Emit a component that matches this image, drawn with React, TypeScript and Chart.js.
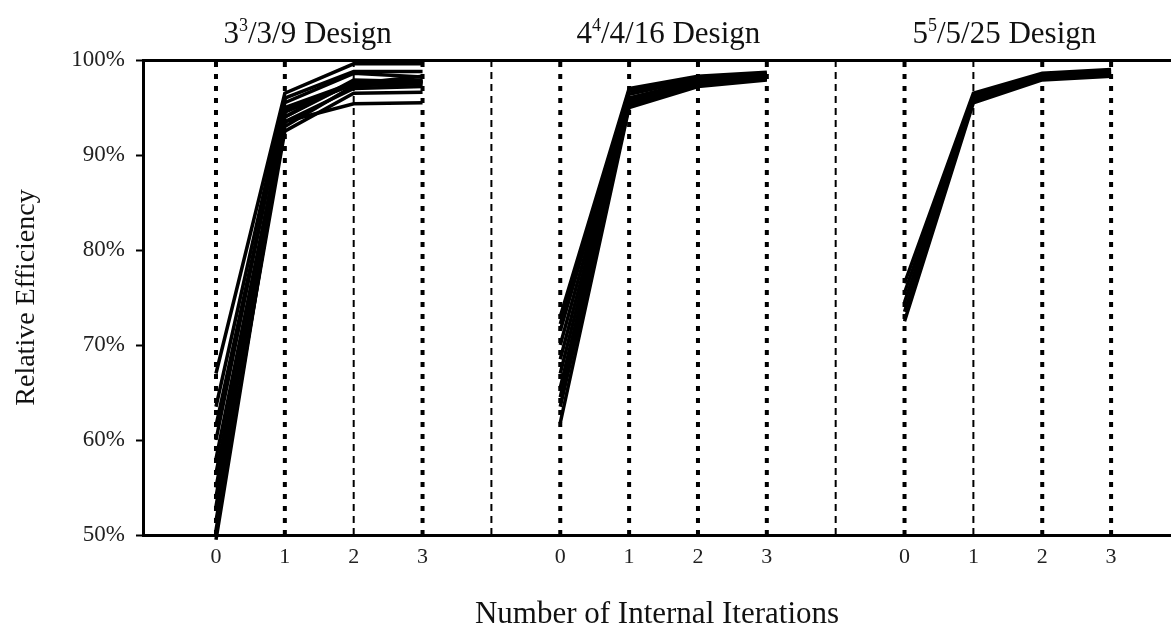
import React, { useEffect, useRef } from "react";
import { Chart, registerables } from "chart.js";

Chart.register(...registerables);

// ---------- data ----------
const iterations = [0, 1, 2, 3];
const iterationLabels = ["0", "1", "2", "3"];
const panelOffsets = [0, 5, 10];
const panelTitleBase = ["3", "4", "5"];
const panelTitleSup = ["3", "4", "5"];
const panelTitleRest = ["/3/9 Design", "/4/16 Design", "/5/25 Design"];

// 3^3/3/9 design: relative efficiency (%) at iterations 0..3
const design1Series = [
  [67.0, 96.5, 99.6, 99.6],
  [63.5, 96.0, 98.8, 98.8],
  [61.5, 95.0, 97.6, 97.9],
  [60.0, 95.5, 98.6, 98.2],
  [58.0, 94.0, 97.7, 97.8],
  [56.5, 93.0, 97.3, 97.5],
  [55.0, 93.5, 97.0, 97.2],
  [54.0, 94.8, 97.4, 97.6],
  [53.0, 94.5, 97.5, 98.3],
  [51.5, 92.5, 96.5, 96.6],
  [50.5, 93.5, 95.4, 95.5],
  [49.5, 94.0, 97.9, 97.7],
];

// 4^4/4/16 design
const design2Series = [
  [73.0, 97.0, 98.3, 98.7],
  [72.2, 96.8, 98.2, 98.6],
  [71.5, 96.7, 98.1, 98.5],
  [70.0, 96.4, 98.0, 98.4],
  [68.5, 96.0, 97.8, 98.3],
  [67.0, 95.8, 97.7, 98.2],
  [65.5, 95.5, 97.6, 98.1],
  [64.5, 95.3, 97.5, 98.0],
  [63.5, 95.2, 97.4, 98.0],
  [61.8, 95.0, 97.2, 97.9],
];

// 5^5/5/25 design
const design3Series = [
  [76.5, 96.5, 98.6, 99.0],
  [75.5, 96.2, 98.4, 98.8],
  [74.5, 96.0, 98.2, 98.7],
  [73.5, 95.8, 98.0, 98.5],
  [72.5, 95.5, 97.9, 98.3],
];

const allDesigns = [design1Series, design2Series, design3Series];

const yTickValues = [50, 60, 70, 80, 90, 100];
const yMin = 50;
const yMax = 100;
const xMin = -1.06;
const xMax = 13.87;

// vertical reference lines (x positions on the shared axis)
const thickRefX = [0, 1, 3, 5, 6, 7, 8, 10, 12, 13];
const thinRefX = [2, 4, 9, 11];

const xTickValues = panelOffsets.flatMap((o) => iterations.map((i) => o + i));

const SERIF = '"Liberation Serif", "Times New Roman", serif';

const panelTitlePlugin = {
  id: "panelTitles",
  afterDraw(chart: any) {
    const ctx = chart.ctx;
    const xs = chart.scales.x;
    const baseY = chart.chartArea.top - 17;
    const nudge = [-0.17, 0.07, -0.05];
    ctx.save();
    ctx.fillStyle = "#111";
    ctx.textBaseline = "alphabetic";
    ctx.textAlign = "left";
    const bigFont = `31px ${SERIF}`;
    const smallFont = `18px ${SERIF}`;
    panelOffsets.forEach((o, i) => {
      const cx = xs.getPixelForValue(o + 1.5 + nudge[i]);
      ctx.font = bigFont;
      const w1 = ctx.measureText(panelTitleBase[i]).width;
      const w3 = ctx.measureText(panelTitleRest[i]).width;
      ctx.font = smallFont;
      const w2 = ctx.measureText(panelTitleSup[i]).width;
      let x = cx - (w1 + w2 + w3) / 2;
      ctx.font = bigFont;
      ctx.fillText(panelTitleBase[i], x, baseY);
      x += w1;
      ctx.font = smallFont;
      ctx.fillText(panelTitleSup[i], x, baseY - 12);
      x += w2;
      ctx.font = bigFont;
      ctx.fillText(panelTitleRest[i], x, baseY);
    });
    ctx.restore();
  },
};

export default function App() {
  const canvasRef = useRef<HTMLCanvasElement | null>(null);

  useEffect(() => {
    document.body.style.margin = "0";
    const canvas = canvasRef.current;
    if (!canvas) return;

    const refDatasets: any[] = [
      ...thickRefX.map((x) => ({
        data: [
          { x, y: yMin },
          { x, y: yMax },
        ],
        borderColor: "#000",
        borderWidth: 4,
        borderDash: [5, 7],
        pointRadius: 0,
        fill: false,
        order: 10,
      })),
      ...thinRefX.map((x) => ({
        data: [
          { x, y: yMin },
          { x, y: yMax },
        ],
        borderColor: "#000",
        borderWidth: 2,
        borderDash: [7, 5],
        pointRadius: 0,
        fill: false,
        order: 10,
      })),
    ];

    const dataDatasets: any[] = allDesigns.flatMap((series, p) =>
      series.map((vals) => ({
        data: vals.map((v, j) => ({ x: panelOffsets[p] + iterations[j], y: v })),
        borderColor: "#000",
        borderWidth: 3.5,
        pointRadius: 0,
        fill: false,
        tension: 0,
        clip: false,
        order: 1,
      }))
    );

    const chart = new Chart(canvas, {
      type: "line",
      data: { datasets: [...refDatasets, ...dataDatasets] },
      options: {
        animation: false,
        responsive: false,
        layout: { padding: { top: 60, left: 0, right: 0, bottom: 0 } },
        plugins: {
          legend: { display: false },
          tooltip: { enabled: false },
        },
        scales: {
          x: {
            type: "linear",
            min: xMin,
            max: xMax,
            afterBuildTicks: (s: any) => {
              s.ticks = xTickValues.map((v) => ({ value: v }));
            },
            afterFit: (s: any) => {
              s.height = 96;
            },
            ticks: {
              autoSkip: false,
              maxRotation: 0,
              padding: 9,
              color: "#222",
              font: { family: SERIF, size: 22 },
              callback: (v: any) => {
                const idx = xTickValues.indexOf(Number(v));
                return idx >= 0 ? iterationLabels[idx % iterations.length] : "";
              },
            },
            grid: { drawOnChartArea: false, drawTicks: false },
            border: { color: "#000", width: 3 },
            title: {
              display: true,
              text: "Number of Internal Iterations",
              color: "#111",
              font: { family: SERIF, size: 31, lineHeight: 1 },
              padding: { top: 0, bottom: 1 },
            },
          },
          y: {
            min: yMin,
            max: yMax,
            afterBuildTicks: (s: any) => {
              s.ticks = yTickValues.map((v) => ({ value: v }));
            },
            afterFit: (s: any) => {
              s.width = 143;
            },
            ticks: {
              padding: 11,
              color: "#222",
              font: { family: SERIF, size: 23 },
              callback: (v: any) => `${v}%`,
            },
            grid: {
              color: (c: any) => (c.tick && c.tick.value === yMax ? "#000" : "rgba(0,0,0,0)"),
              lineWidth: 3,
              drawTicks: true,
              tickLength: 7,
              tickWidth: 2,
              tickColor: "#000",
            },
            border: { color: "#000", width: 3 },
            title: {
              display: true,
              text: "Relative Efficiency",
              color: "#111",
              font: { family: SERIF, size: 28, lineHeight: 1 },
              padding: { top: 13, bottom: 0 },
            },
          },
        },
      },
      plugins: [panelTitlePlugin],
    } as any);

    return () => {
      chart.destroy();
    };
  }, []);

  return (
    <canvas
      ref={canvasRef}
      width={1171}
      height={631}
      style={{ display: "block", width: 1171, height: 631 }}
    />
  );
}
